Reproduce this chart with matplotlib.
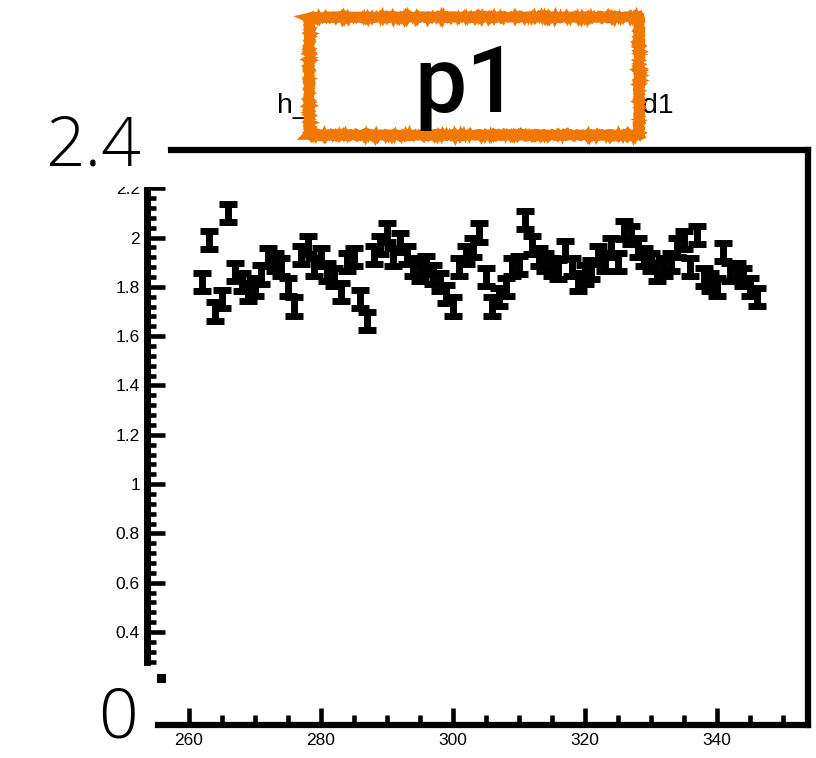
import matplotlib
matplotlib.use("Agg")
import matplotlib.pyplot as plt
from matplotlib.patches import Rectangle
from matplotlib.ticker import FixedLocator, FuncFormatter

plt.rcParams['font.family'] = ['Liberation Sans', 'DejaVu Sans']

# data
x_vals = list(range(262, 347))
y_vals = [1.82, 1.99, 1.70, 1.75, 2.10, 1.86, 1.82, 1.78, 1.80, 1.85,
          1.92, 1.90, 1.88, 1.80, 1.72, 1.93, 1.97, 1.88, 1.92, 1.86,
          1.84, 1.78, 1.90, 1.92, 1.75, 1.66, 1.93, 1.97, 2.02, 1.92,
          1.98, 1.93, 1.88, 1.86, 1.89, 1.85, 1.82, 1.77, 1.72, 1.88,
          1.93, 1.96, 2.02, 1.84, 1.72, 1.76, 1.80, 1.88, 1.89, 2.07,
          1.97, 1.92, 1.90, 1.88, 1.87, 1.95, 1.88, 1.82, 1.85, 1.87,
          1.93, 1.90, 1.96, 1.90, 2.03, 2.01, 1.96, 1.92, 1.90, 1.86,
          1.88, 1.90, 1.96, 1.99, 1.88, 2.01, 1.84, 1.82, 1.80, 1.94,
          1.86, 1.86, 1.84, 1.80, 1.76]
y_err = 0.037

x_major = [260, 280, 300, 320, 340]
x_minor = [265, 270, 275, 285, 290, 295, 305, 310, 315, 325, 330, 335, 345, 350]
y_major = [0.4, 0.6, 0.8, 1.0, 1.2, 1.4, 1.6, 1.8, 2.0, 2.2]
y_minor = [0.28, 0.32, 0.36, 0.44, 0.48, 0.52, 0.56, 0.64, 0.68, 0.72, 0.76,
           0.84, 0.88, 0.92, 0.96, 1.04, 1.08, 1.12, 1.16, 1.24, 1.28, 1.32, 1.36,
           1.44, 1.48, 1.52, 1.56, 1.64, 1.68, 1.72, 1.76, 1.84, 1.88, 1.92, 1.96,
           2.04, 2.08, 2.12, 2.16]

title = "h_ratio_vs_run_number_p1_d1"
badge = "p1"
range_top = "2.4"
range_bottom = "0"

W, H = 816, 758
fig = plt.figure(figsize=(W / 100, H / 100), dpi=100)
fig.patch.set_facecolor("white")

ax = fig.add_axes([158 / W, 33 / H, 650 / W, 575 / H])
ax.errorbar(x_vals, y_vals, yerr=y_err, fmt="none", ecolor="black",
            elinewidth=5, capsize=6.3, capthick=5)
ax.set_xlim(255.35, 353.8)
ax.set_ylim(0.023, 2.355)

for side in ["top", "right", "bottom"]:
    ax.spines[side].set_linewidth(4.5)
ax.spines["top"].set_bounds(257.3, 353.8)
ax.spines["left"].set_linewidth(5)
ax.spines["left"].set_position(("outward", 8))
ax.spines["left"].set_bounds(0.28, 2.2)

ax.xaxis.set_major_locator(FixedLocator(x_major))
ax.xaxis.set_minor_locator(FixedLocator(x_minor))
ax.yaxis.set_major_locator(FixedLocator(y_major))
ax.yaxis.set_minor_locator(FixedLocator(y_minor))
ax.yaxis.set_major_formatter(FuncFormatter(lambda v, p: "%g" % round(v, 2)))

ax.tick_params(axis="x", which="major", direction="in", length=12, width=3.3,
               labelsize=12.5, pad=6)
ax.tick_params(axis="x", which="minor", direction="in", length=7, width=3.3)
ax.tick_params(axis="y", which="major", direction="in", length=13, width=3.3,
               labelsize=12.5, pad=5)
ax.tick_params(axis="y", which="minor", direction="in", length=6.5, width=3.3)

# white patch that cuts the top of the y axis labels
fig.patches.append(Rectangle((100 / W, 1 - 187 / H), 68 / W, 37 / H,
                             transform=fig.transFigure, facecolor="white",
                             edgecolor="none", zorder=1))
# stray square below the y axis
fig.patches.append(Rectangle((157 / W, 1 - 683 / H), 9 / W, 9 / H,
                             transform=fig.transFigure, facecolor="black",
                             edgecolor="none", zorder=1))

fig.text(475 / W, 1 - 113 / H, title, ha="center", va="baseline",
         fontsize=20.5, zorder=3)

# sketchy orange box with the badge, drawn over the title
box_xy = (309 / W, 1 - 135 / H)
box_w, box_h = 330 / W, 118 / H
fill = Rectangle(box_xy, box_w, box_h, transform=fig.transFigure,
                 facecolor="white", edgecolor="none", zorder=3.5)
fig.patches.append(fill)
for lw, sc, ln, rnd in [(7.0, 0.8, 8, 4), (5.0, 1.3, 1.5, 2),
                        (3.5, 1.6, 1.0, 2), (2.0, 1.9, 0.8, 2)]:
    edge = Rectangle(box_xy, box_w, box_h, transform=fig.transFigure,
                     facecolor="none", edgecolor="#f07800", linewidth=lw,
                     zorder=3.6)
    edge.set_sketch_params(scale=sc, length=ln, randomness=rnd)
    fig.patches.append(edge)
fig.text(467 / W, 1 - 112 / H, badge, ha="center", va="baseline",
         fontsize=67, fontweight="medium", zorder=4,
         family=["Roboto", "Liberation Sans"])

fig.text(141 / W, 1 - 147 / H, range_top, ha="right", va="center",
         fontsize=50, fontweight="light", zorder=4,
         family=["Open Sans", "Liberation Sans"])
fig.text(118 / W, 1 - 719 / H, range_bottom, ha="center", va="center",
         fontsize=50, fontweight="light", zorder=4,
         family=["Open Sans", "Liberation Sans"])

fig.savefig("out.png", dpi=100)
